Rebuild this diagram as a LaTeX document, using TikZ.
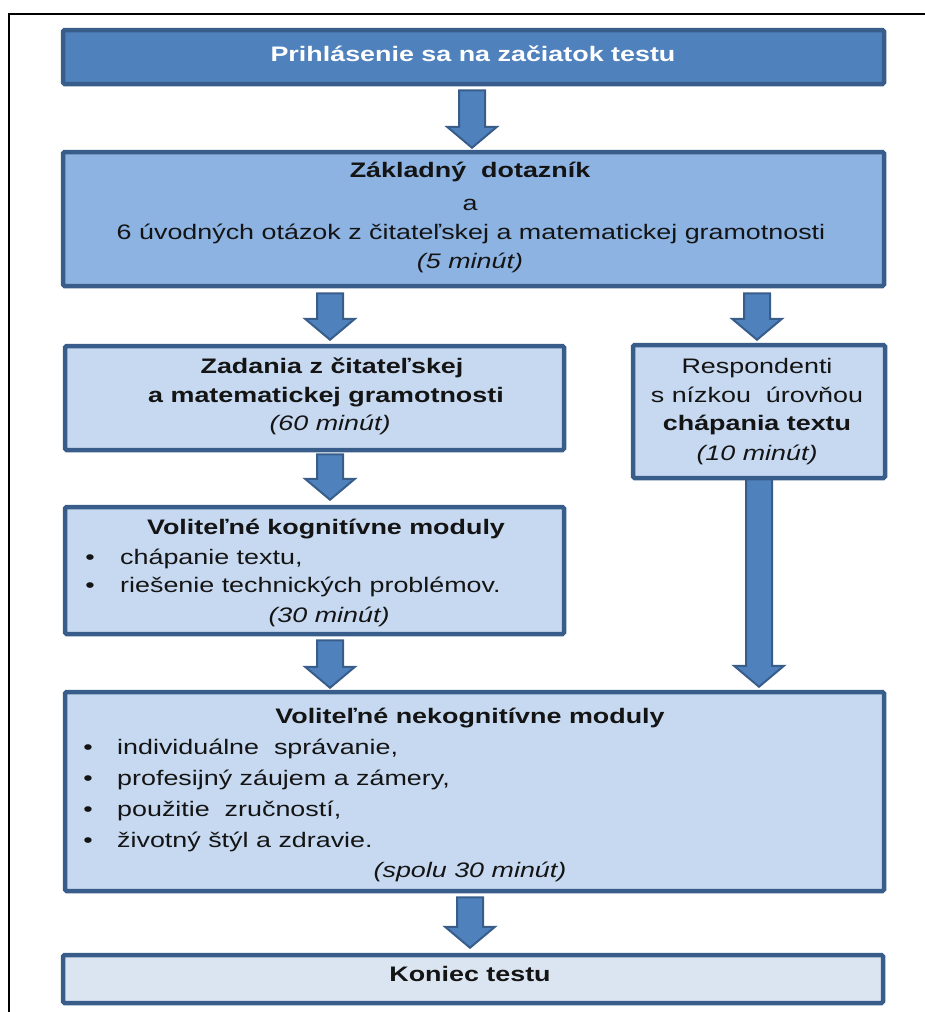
\documentclass[tikz,border=0pt]{standalone}
\usepackage{fontspec}
\setmainfont{Liberation Sans}[FakeStretch=1.28]
\usetikzlibrary{calc}
\definecolor{topfill}{HTML}{4F81BD}
\definecolor{boxline}{HTML}{385D8A}
\definecolor{midfill}{HTML}{8DB3E2}
\definecolor{lightfill}{HTML}{C6D9F1}
\definecolor{endfill}{HTML}{DBE5F1}
\definecolor{textc}{HTML}{141414}
\newcommand{\blockarr}[2]{%
  \path[arr] let \p1=#1, \p2=#2 in
   (\x1-13pt,\y1) -- (\x1+13pt,\y1) -- (\x1+13pt,\y2+21pt) -- (\x1+25pt,\y2+21pt)
   -- (\x1,\y2) -- (\x1-25pt,\y2+21pt) -- (\x1-13pt,\y2+21pt) -- cycle;}
\begin{document}
\begin{tikzpicture}[x=1pt,y=-1pt,
  box/.style={draw=boxline, line width=4.5pt, rounded corners=1.5pt, inner sep=0pt},
  txt/.style={anchor=base, inner sep=0pt, text=textc, font=\fontsize{21}{25}\selectfont},
  btxt/.style={txt, font=\fontsize{21}{25}\selectfont\bfseries},
  itxt/.style={txt, font=\fontsize{21}{25}\selectfont\itshape},
  ltxt/.style={txt, anchor=base west},
  dot/.style={txt},
  arr/.style={fill=topfill, draw=boxline, line width=2pt, line join=miter}]
\useasboundingbox (0,0) rectangle (925,1012);
% frame
\draw[black, line width=2pt] (9,1013) -- (9,14) -- (926,14);
% boxes
\node[box, fill=topfill, minimum width=821pt, minimum height=54pt] (b1) at (473.5,57) {};
\node[box, fill=midfill, minimum width=821pt, minimum height=134pt] (b2) at (473.5,219) {};
\node[box, fill=lightfill, minimum width=499pt, minimum height=104pt] (b3) at (314.5,398) {};
\node[box, fill=lightfill, minimum width=252pt, minimum height=133pt] (br) at (759,411.5) {};
\node[box, fill=lightfill, minimum width=499pt, minimum height=127pt] (b4) at (314.5,570.5) {};
\node[box, fill=lightfill, minimum width=819pt, minimum height=199pt] (b5) at (474.5,791.5) {};
\node[box, fill=endfill, minimum width=820pt, minimum height=48pt] (b6) at (473,979) {};
% arrow axes
\coordinate (ax1) at (472,0);
\coordinate (ax2) at (330,0);
\coordinate (ax3) at (757,0);
\coordinate (ax4) at (759,0);
\coordinate (ax5) at (470,0);
% arrows
\blockarr{($(b1.south -| ax1)+(0,4)$)}{($(b2.north -| ax1)+(0,-2)$)}
\blockarr{($(b2.south -| ax2)+(0,5)$)}{($(b3.north -| ax2)+(0,-4)$)}
\blockarr{($(b2.south -| ax3)+(0,5)$)}{($(br.north -| ax3)+(0,-3)$)}
\blockarr{($(b3.south -| ax2)+(0,2)$)}{($(b4.north -| ax2)+(0,-5)$)}
\blockarr{($(br.south -| ax4)+(0,-1)$)}{($(b5.north -| ax4)+(0,-3)$)}
\blockarr{($(b4.south -| ax2)+(0,4)$)}{($(b5.north -| ax2)+(0,-2)$)}
\blockarr{($(b5.south -| ax5)+(0,4)$)}{($(b6.north -| ax5)+(0,-5)$)}
% texts
\node[btxt, text=white] (t1) at (473,61) {Prihlásenie sa na začiatok testu};
\node[btxt] (t2a) at (470,177) {Základný\ \ dotazník};
\node[txt] (t2b) at (470,210) {a};
\node[txt] (t2c) at (471,239) {6 úvodných otázok z čitateľskej a matematickej gramotnosti};
\node[itxt] (t2d) at (470,268) {(5 minút)};
\node[btxt] (t3a) at (332,373) {Zadania z čitateľskej};
\node[btxt] (t3b) at (326,402) {a matematickej gramotnosti};
\node[itxt] (t3c) at (330,430) {(60 minút)};
\node[txt] (tra) at (757,373) {Respondenti};
\node[txt] (trb) at (757,402) {s nízkou\ \ úrovňou};
\node[btxt] (trc) at (757,430) {chápania textu};
\node[itxt] (trd) at (757,460) {(10 minút)};
\node[btxt] (t4a) at (326,534) {Voliteľné kognitívne moduly};
\node[dot] (d4b) at (90,564) {•};
\node[ltxt] (t4b) at (120,564) {chápanie textu,};
\node[dot] (d4c) at (90,592) {•};
\node[ltxt] (t4c) at (120,592) {riešenie technických problémov.};
\node[itxt] (t4d) at (329,622) {(30 minút)};
\node[btxt] (t5a) at (470,723) {Voliteľné nekognitívne moduly};
\node[dot] (d5b) at (88,754) {•};
\node[ltxt] (t5b) at (117,754) {individuálne\ \ správanie,};
\node[dot] (d5c) at (88,785) {•};
\node[ltxt] (t5c) at (117,785) {profesijný záujem a zámery,};
\node[dot] (d5d) at (88,816) {•};
\node[ltxt] (t5d) at (117,816) {použitie\ \ zručností,};
\node[dot] (d5e) at (88,847) {•};
\node[ltxt] (t5e) at (117,847) {životný štýl a zdravie.};
\node[itxt] (t5f) at (470,877) {(spolu 30 minút)};
\node[btxt] (t6) at (470,981) {Koniec testu};
\end{tikzpicture}
\end{document}
